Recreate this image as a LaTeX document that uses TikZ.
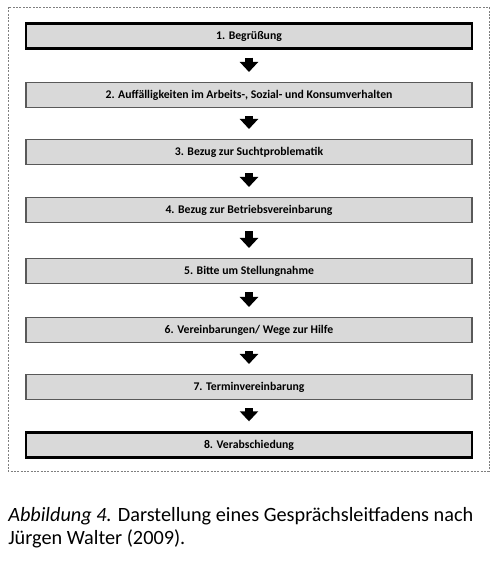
\documentclass[tikz,border=0pt]{standalone}
\usepackage{fontspec}
\setmainfont{Carlito}
\usetikzlibrary{arrows.meta, positioning}
\definecolor{stepfill}{HTML}{D9D9D9}
\definecolor{stepdraw}{HTML}{595959}
\definecolor{framegray}{HTML}{7F7F7F}
\tikzset{
  % Schritt des Leitfadens
  stepbox/.style={draw=stepdraw, line width=0.8pt, fill=stepfill,
    minimum width=446*0.75pt, minimum height=25*0.75pt, inner sep=0pt,
    font=\fontsize{8.8}{10}\selectfont\bfseries},
  % erster und letzter Schritt
  stepbold/.style={stepbox, draw=black, line width=1.8pt},
  % Blockpfeil zwischen zwei Schritten
  blockarrow/.style={line width=6pt, -{Triangle[length=7.5pt, width=13.5pt]},
    shorten <=6pt, shorten >=7.5pt},
  % gestrichelter Rahmen
  outerframe/.style={draw=framegray, line width=0.6pt, dash pattern=on 1.5pt off 1pt},
  % Bildunterschrift
  caption/.style={anchor=north west, inner sep=0pt, align=left,
    font=\fontsize{15.2}{17.3}\selectfont},
}
\begin{document}
\begin{tikzpicture}[x=0.75pt, y=-0.75pt]
  \useasboundingbox (0,0) rectangle (500,564);
  \draw[outerframe] (8,7) rectangle (489,471);
  \node[stepbold] (s1) at (249,36) {1. Begrüßung};
  \node[stepbox] (s2) at (249,95) {2. Auffälligkeiten im Arbeits-, Sozial- und Konsumverhalten};
  \node[stepbox] (s3) at (249,152) {3. Bezug zur Suchtproblematik};
  \node[stepbox] (s4) at (249,210) {4. Bezug zur Betriebsvereinbarung};
  \node[stepbox] (s5) at (249,271) {5. Bitte um Stellungnahme};
  \node[stepbox] (s6) at (249,330) {6. Vereinbarungen/ Wege zur Hilfe};
  \node[stepbox] (s7) at (249,387) {7. Terminvereinbarung};
  \node[stepbold] (s8) at (249,445) {8. Verabschiedung};
  \draw[blockarrow] (s1) -- (s2);
  \draw[blockarrow] (s2) -- (s3);
  \draw[blockarrow] (s3) -- (s4);
  \draw[blockarrow] (s4) -- (s5);
  \draw[blockarrow] (s5) -- (s6);
  \draw[blockarrow] (s6) -- (s7);
  \draw[blockarrow] (s7) -- (s8);
  \node[caption] (cap) at (8,507) {\textit{Abbildung 4.} Darstellung eines Gesprächsleitfadens nach\\Jürgen Walter (2009).};
\end{tikzpicture}
\end{document}
